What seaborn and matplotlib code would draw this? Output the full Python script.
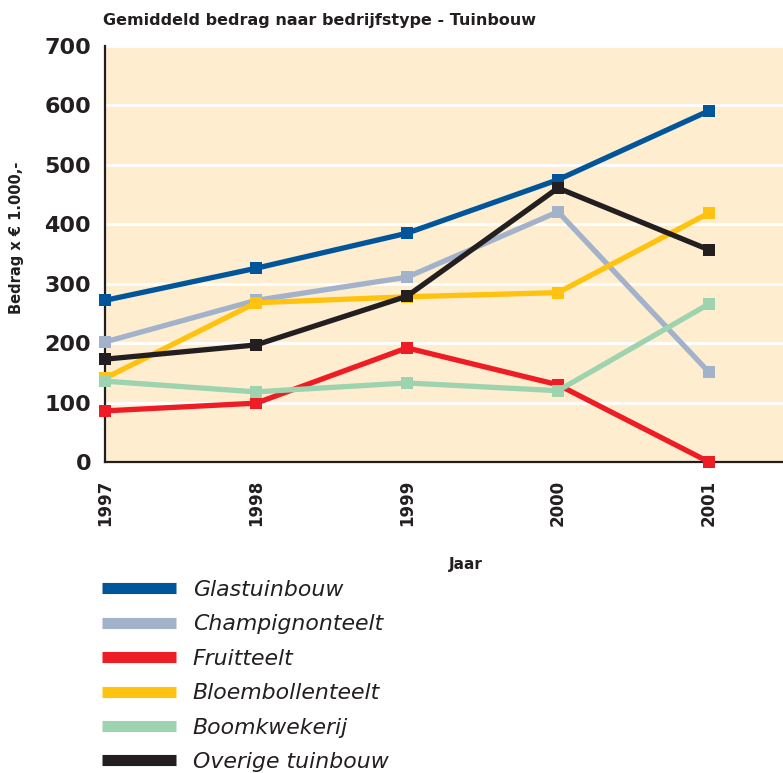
import pandas as pd
import matplotlib.pyplot as plt
import seaborn as sns
from matplotlib.lines import Line2D

jaren = [1997, 1998, 1999, 2000, 2001]
glastuinbouw = [272, 326, 385, 475, 591]
champignonteelt = [202, 272, 311, 421, 151]
fruitteelt = [86, 99, 192, 130, 0]
bloembollenteelt = [141, 268, 278, 285, 419]
boomkwekerij = [136, 118, 133, 120, 266]
overige_tuinbouw = [173, 197, 279, 461, 357]

namen = ['Glastuinbouw', 'Champignonteelt', 'Fruitteelt',
         'Bloembollenteelt', 'Boomkwekerij', 'Overige tuinbouw']
reeksen = [glastuinbouw, champignonteelt, fruitteelt,
           bloembollenteelt, boomkwekerij, overige_tuinbouw]
kleuren = ['#00559b', '#a2b2cb', '#ee1c25', '#ffc20e', '#9dd3ae', '#231f20']

df = pd.DataFrame({'Jaar': jaren * len(namen),
                   'Bedrag': [v for r in reeksen for v in r],
                   'Type': [n for n in namen for _ in jaren]})

sns.set_style('white')
tekst = '#231f20'

fig = plt.figure(figsize=(7.83, 7.73), dpi=100)
ax = fig.add_axes([105 / 783, 1 - 462 / 773, 1 - 105 / 783, 416 / 773])
ax.set_facecolor('#feedcf')

for i, naam in enumerate(namen):
    sns.lineplot(data=df[df['Type'] == naam], x='Jaar', y='Bedrag', ax=ax,
                 color=kleuren[i], linewidth=3.8, marker='s', markersize=8,
                 markeredgecolor=kleuren[i], markeredgewidth=0,
                 clip_on=False, zorder=3 + i, legend=False)

ax.set_xlim(1997, 2001.49)
ax.set_ylim(0, 700)
ax.set_xticks(jaren)
ax.set_yticks(range(0, 701, 100))
ax.yaxis.grid(True, color='white', linewidth=2)
ax.xaxis.grid(False)
ax.set_axisbelow(True)
for s in ['top', 'right']:
    ax.spines[s].set_visible(False)
for s in ['left', 'bottom']:
    ax.spines[s].set_color(tekst)
    ax.spines[s].set_linewidth(1.6)
ax.tick_params(axis='both', direction='in', length=7, width=1.5, color=tekst)
ax.tick_params(axis='y', pad=10, labelsize=16, labelcolor=tekst)
ax.tick_params(axis='x', pad=13, labelsize=12, labelcolor=tekst, labelrotation=90)
for lbl in ax.get_xticklabels() + ax.get_yticklabels():
    lbl.set_fontweight('bold')
ax.set_xlabel('')
ax.set_ylabel('')

fig.text(103 / 783, 1 - 20 / 773, 'Gemiddeld bedrag naar bedrijfstype - Tuinbouw',
         ha='left', va='center', fontsize=11.5, fontweight='bold', color=tekst)
fig.text(17 / 783, 1 - 238 / 773, 'Bedrag x € 1.000,-', rotation=90,
         ha='center', va='center', fontsize=10.5, fontweight='bold', color=tekst)
fig.text(466 / 783, 1 - 565 / 773, 'Jaar', ha='center', va='center',
         fontsize=11, fontweight='bold', color=tekst)

handles = [Line2D([0], [0], color=k, linewidth=8, solid_capstyle='butt') for k in kleuren]
fig.legend(handles, namen, loc='upper left', bbox_to_anchor=(82 / 783, 1 - 560 / 773),
           frameon=False, handlelength=3.4, handletextpad=0.75, labelspacing=0.66,
           prop={'style': 'italic', 'size': 15.8}, labelcolor=tekst)

fig.savefig('out.png', dpi=100)
